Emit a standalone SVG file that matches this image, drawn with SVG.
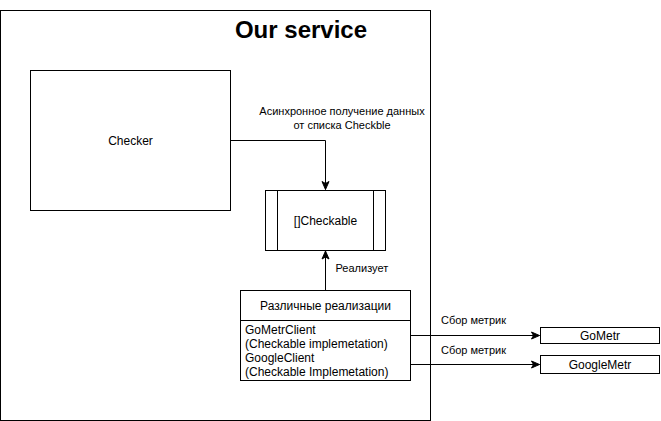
<svg xmlns="http://www.w3.org/2000/svg" width="661" height="421" viewBox="0 0 661 421">
<style>
.box{fill:#fff;stroke:#000;stroke-width:1}
.t{font-family:"Liberation Sans",Arial,sans-serif;font-size:12px;fill:#000}
.s{font-family:"Liberation Sans",Arial,sans-serif;font-size:11px;fill:#000}
.c{text-anchor:middle}
.e{fill:none;stroke:#000;stroke-width:1}
</style>
<defs>
<marker id="arr" markerUnits="userSpaceOnUse" markerWidth="10" markerHeight="10" viewBox="0 0 10 10" refX="9" refY="5" orient="auto">
<path d="M1,1.5 L9,5 L1,8.5 L3,5 Z" fill="#000" stroke="#000" stroke-width="1"/>
</marker>
</defs>
<rect width="661" height="421" fill="#fff"/>
<g id="service">
<rect class="box" x="0.5" y="10.5" width="430" height="410"/>
<text x="301" y="38" class="c" font-family="Liberation Sans,Arial,sans-serif" font-size="24" font-weight="bold">Our service</text>
</g>
<g id="checker">
<rect class="box" x="30.5" y="70.5" width="200" height="140"/>
<text class="t c" x="130.5" y="145">Checker</text>
</g>
<g id="checkable">
<rect class="box" x="265.5" y="190.5" width="120" height="60"/>
<line class="e" x1="277.5" y1="190.5" x2="277.5" y2="250.5"/>
<line class="e" x1="373.5" y1="190.5" x2="373.5" y2="250.5"/>
<text class="t c" x="325.5" y="225">[]Checkable</text>
</g>
<g id="impls">
<rect class="box" x="240.5" y="290.5" width="170" height="90"/>
<line class="e" x1="240.5" y1="320.5" x2="410.5" y2="320.5"/>
<text class="t c" x="325.5" y="310">Различные реализации</text>
<text class="t" x="245" y="333.5">GoMetrClient</text>
<text class="t" x="245" y="347.8">(Checkable implemetation)</text>
<text class="t" x="245" y="362">GoogleClient</text>
<text class="t" x="245" y="376.3">(Checkable Implemetation)</text>
</g>
<g id="gometr">
<rect class="box" x="540.5" y="327.5" width="119" height="16"/>
<text class="t c" x="600" y="340">GoMetr</text>
</g>
<g id="googlemetr">
<rect class="box" x="540.5" y="355.5" width="119" height="18"/>
<text class="t c" x="600" y="369">GoogleMetr</text>
</g>
<g id="connectors">
<path class="e" d="M230.5,140.5 H325.5 V189.5" marker-end="url(#arr)"/>
<text class="s c" x="342" y="115">Асинхронное получение данных</text>
<text class="s c" x="342" y="128.5">от списка Checkble</text>
<path class="e" d="M325.5,290.5 V251" marker-end="url(#arr)"/>
<text class="s" x="335.5" y="272">Реализует</text>
<path class="e" d="M410.5,335.5 H539.5" marker-end="url(#arr)"/>
<text class="s" x="441" y="323.5">Сбор метрик</text>
<path class="e" d="M410.5,364.5 H539.5" marker-end="url(#arr)"/>
<text class="s" x="441" y="353.5">Сбор метрик</text>
</g>
</svg>
